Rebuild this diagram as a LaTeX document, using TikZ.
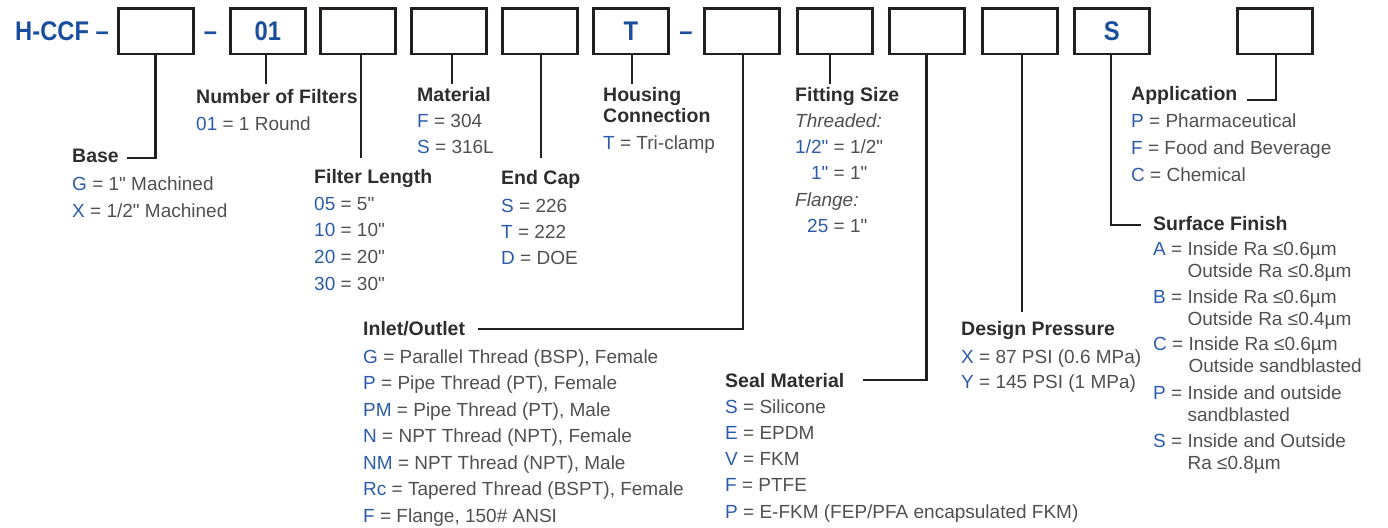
\documentclass[tikz,border=0pt]{standalone}
\usepackage{fontspec}
\setmainfont{Liberation Sans}[Ligatures=TeXOff]
\newfontfamily\titlefont[FakeStretch=0.88]{Liberation Sans}
\definecolor{titleblue}{HTML}{1A4F9F}
\definecolor{keyblue}{HTML}{2B5CAB}
\definecolor{headc}{HTML}{2E2E2E}
\definecolor{bodyc}{HTML}{505050}
\definecolor{linec}{HTML}{231F20}
\newcommand{\kc}[1]{\textcolor{keyblue}{#1}}
\newcommand{\ml}[2]{\vtop{\baselineskip=#1\lineskiplimit=-40pt\lineskip=0pt\halign{##\hfil&##\hfil\cr#2\crcr}}}
\newcommand{\mlr}[2]{\vtop{\baselineskip=#1\lineskiplimit=-40pt\lineskip=0pt\halign{\hfil##&##\hfil\cr#2\crcr}}}
\begin{document}
\begin{tikzpicture}[x=1pt,y=-1pt,
  bx/.style={draw=linec, line width=2.6pt, minimum width=74.9pt, minimum height=45.9pt, inner sep=0pt,
     text=titleblue, font=\titlefont\bfseries\fontsize{27}{27}\selectfont},
  conn/.style={draw=linec, line width=2.6pt},
  hd/.style={anchor=base west, inner sep=0pt, text=headc, font=\bfseries\fontsize{19.5}{21}\selectfont},
  bd/.style={anchor=base west, inner sep=0pt, text=bodyc, font=\fontsize{19}{26}\selectfont},
  dsh/.style={anchor=base, inner sep=0pt, text=titleblue, font=\titlefont\bfseries\fontsize{27}{27}\selectfont}]
\useasboundingbox (0,0) rectangle (1388,527);

% title and boxes
\node[anchor=base west, inner sep=0pt, text=titleblue, font=\titlefont\bfseries\fontsize{27}{27}\selectfont] (title) at (15,41) {H-CCF –};
\node[bx] (b1) at (155.75,31.25) {};
\node[dsh] (d1) at (210.5,41) {–};
\node[bx] (b2) at (267.75,31.25) {01};
\node[bx] (b3) at (357.75,31.25) {};
\node[bx] (b4) at (448.75,31.25) {};
\node[bx] (b5) at (539.75,31.25) {};
\node[bx] (b6) at (630.75,31.25) {T};
\node[dsh] (d2) at (686,41) {–};
\node[bx] (b7) at (741.75,31.25) {};
\node[bx] (b8) at (834.75,31.25) {};
\node[bx] (b9) at (926.75,31.25) {};
\node[bx] (b10) at (1019.75,31.25) {};
\node[bx] (b11) at (1111.75,31.25) {S};
\node[bx] (b12) at (1274.75,31.25) {};

% connector ends
\coordinate (eBase) at (127,158);
\coordinate (eNum) at (266,84);
\coordinate (eFL) at (361,158);
\coordinate (eMat) at (452,84);
\coordinate (eEC) at (541,158);
\coordinate (eHC) at (632,84);
\coordinate (eIn) at (478,329);
\coordinate (eFit) at (830,84);
\coordinate (eSeal) at (863,380);
\coordinate (eDP) at (1022,312);
\coordinate (eSurf) at (1141,225);
\coordinate (eApp) at (1247,100);

\draw[conn] (b1.south) |- (eBase);
\draw[conn] (eNum |- b2.south) -- (eNum);
\draw[conn] (eFL |- b3.south) -- (eFL);
\draw[conn] (eMat |- b4.south) -- (eMat);
\draw[conn] (eEC |- b5.south) -- (eEC);
\draw[conn] (eHC |- b6.south) -- (eHC);
\draw[conn] ([xshift=1.25pt]b7.south) |- (eIn);
\draw[conn] (eFit |- b8.south) -- (eFit);
\draw[conn] (b9.south) |- (eSeal);
\draw[conn] (eDP |- b10.south) -- (eDP);
\draw[conn] ([xshift=-0.75pt]b11.south) |- (eSurf);
\draw[conn] ([xshift=1.25pt]b12.south) |- (eApp);

% Base
\node[hd] (hBase) at (72,162) {Base};
\node[bd] (tBase) at (72,190) {\ml{27pt}{\kc{G} = 1" Machined\cr \kc{X} = 1/2" Machined}};
% Number of Filters
\node[hd] (hNum) at (196,103) {Number of Filters};
\node[bd] (tNum) at (196,130) {\kc{01} = 1 Round};
% Filter Length
\node[hd] (hFL) at (314,183) {Filter Length};
\node[bd] (tFL) at (314,210) {\ml{26.7pt}{\kc{05} = 5"\cr \kc{10} = 10"\cr \kc{20} = 20"\cr \kc{30} = 30"}};
% Material
\node[hd] (hMat) at (417,101) {Material};
\node[bd] (tMat) at (417,127) {\ml{26pt}{\kc{F} = 304\cr \kc{S} = 316L}};
% End Cap
\node[hd] (hEC) at (501,184) {End Cap};
\node[bd] (tEC) at (501,212) {\ml{26pt}{\kc{S} = 226\cr \kc{T} = 222\cr \kc{D} = DOE}};
% Housing Connection
\node[hd] (hHC) at (603,101) {\ml{21pt}{Housing\cr Connection}};
\node[bd] (tHC) at (603,149) {\kc{T} = Tri-clamp};
% Fitting Size
\node[hd] (hFit) at (795,101) {Fitting Size};
\node[bd] (tFit) at (795,127) {\mlr{26.4pt}{\multispan2\textit{Threaded:}\hfil\cr
  \kc{1/2"}&\ = 1/2"\cr \kc{1"}&\ = 1"\cr \multispan2\textit{Flange:}\hfil\cr \kc{25}&\ = 1"}};
% Inlet/Outlet
\node[hd] (hIn) at (363,335) {Inlet/Outlet};
\node[bd] (tIn) at (363,363) {\ml{26.5pt}{\kc{G} = Parallel Thread (BSP), Female\cr
  \kc{P} = Pipe Thread (PT), Female\cr
  \kc{PM} = Pipe Thread (PT), Male\cr
  \kc{N} = NPT Thread (NPT), Female\cr
  \kc{NM} = NPT Thread (NPT), Male\cr
  \kc{Rc} = Tapered Thread (BSPT), Female\cr
  \kc{F} = Flange, 150\# ANSI}};
% Seal Material
\node[hd] (hSeal) at (725,387) {Seal Material};
\node[bd] (tSeal) at (725,413) {\ml{26.3pt}{\kc{S} = Silicone\cr
  \kc{E} = EPDM\cr \kc{V} = FKM\cr \kc{F} = PTFE\cr
  \kc{P} = E-FKM (FEP/PFA encapsulated FKM)}};
% Design Pressure
\node[hd] (hDP) at (961,335) {Design Pressure};
\node[bd] (tDP) at (961,363) {\ml{25pt}{\kc{X} = 87 PSI (0.6 MPa)\cr \kc{Y} = 145 PSI (1 MPa)}};
% Application
\node[hd] (hApp) at (1131,100) {Application};
\node[bd] (tApp) at (1131,127) {\ml{27pt}{\kc{P} = Pharmaceutical\cr \kc{F} = Food and Beverage\cr \kc{C} = Chemical}};
% Surface Finish
\node[hd] (hSurf) at (1153,230) {Surface Finish};
\node[bd] (sA) at (1153,255) {\ml{22pt}{\kc{A} = &Inside Ra ≤0.6µm\cr &Outside Ra ≤0.8µm}};
\node[bd] (sB) at (1153,303) {\ml{22pt}{\kc{B} = &Inside Ra ≤0.6µm\cr &Outside Ra ≤0.4µm}};
\node[bd] (sC) at (1153,350) {\ml{22pt}{\kc{C} = &Inside Ra ≤0.6µm\cr &Outside sandblasted}};
\node[bd] (sP) at (1153,399) {\ml{22pt}{\kc{P} = &Inside and outside\cr &sandblasted}};
\node[bd] (sS) at (1153,447) {\ml{22pt}{\kc{S} = &Inside and Outside\cr &Ra ≤0.8µm}};
\end{tikzpicture}
\end{document}
